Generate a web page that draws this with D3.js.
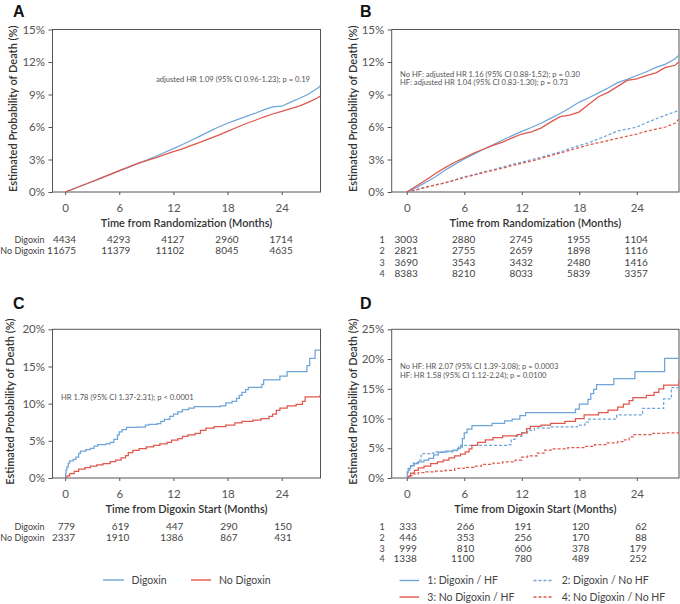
<!DOCTYPE html>
<html><head><meta charset="utf-8">
<script src="https://cdn.jsdelivr.net/npm/d3@7"></script>
<style>body{margin:0;background:#fff}svg{display:block}</style>
</head><body>
<svg id="c" width="680" height="604"></svg>
<script>
// ---------- DATA ----------
const riskTicks = [0, 6, 12, 18, 24];
const yTicksAB = [0, 3, 6, 9, 12, 15];
const yTicksC = [0, 5, 10, 15, 20];
const yTicksD = [0, 5, 10, 15, 20, 25];

// Panel A (months 0..28, 28.3)
const timeA = [0,1,2,3,4,5,6,7,8,9,10,11,12,13,14,15,16,17,18,19,20,21,22,23,24,25,26,27,28,28.3];
const aDigoxin   = [0,0.3,0.62,0.95,1.28,1.62,1.95,2.28,2.62,2.92,3.28,3.65,4.0,4.38,4.78,5.18,5.6,6.0,6.35,6.65,6.95,7.25,7.58,7.85,7.92,8.3,8.65,9.05,9.6,9.8];
const aNoDigoxin = [0,0.32,0.65,0.97,1.3,1.63,1.97,2.3,2.62,2.9,3.15,3.45,3.72,3.98,4.3,4.6,4.92,5.25,5.6,5.95,6.3,6.6,6.92,7.2,7.45,7.7,7.95,8.3,8.7,8.85];
const riskA_Digoxin = [4434, 4293, 4127, 2960, 1714];
const riskA_NoDigoxin = [11675, 11379, 11102, 8045, 4635];

// Panel B (months 0..28, 28.35)
const timeB = [0,1,2,3,4,5,6,7,8,9,10,11,12,13,14,15,16,17,18,19,20,21,22,23,24,25,26,27,28,28.35];
const bDigHF     = [0,0.4,0.9,1.4,2.0,2.55,3.05,3.5,3.95,4.35,4.8,5.2,5.6,5.95,6.35,6.8,7.25,7.75,8.3,8.7,9.15,9.6,10.1,10.4,10.75,11.1,11.5,11.8,12.3,12.6];
const bDigNoHF   = [0,0.2,0.45,0.65,0.85,1.1,1.4,1.6,1.85,2.05,2.3,2.55,2.75,3.0,3.2,3.45,3.7,4.0,4.3,4.55,4.9,5.25,5.65,5.8,6.0,6.4,6.75,7.1,7.4,7.55];
const bNoDigHF   = [0,0.55,1.1,1.7,2.25,2.75,3.15,3.6,3.95,4.3,4.6,5.0,5.35,5.55,5.9,6.45,6.95,7.1,7.4,8.1,8.8,9.2,9.75,10.3,10.45,10.75,11.0,11.5,11.7,12.0];
const bNoDigNoHF = [0,0.2,0.45,0.65,0.85,1.1,1.35,1.55,1.8,2.0,2.2,2.45,2.65,2.85,3.1,3.35,3.6,3.85,4.1,4.35,4.55,4.75,4.95,5.15,5.35,5.6,5.8,6.0,6.35,6.7];
const riskB1 = [3003, 2880, 2745, 1955, 1104];
const riskB2 = [2821, 2755, 2659, 1898, 1116];
const riskB3 = [3690, 3543, 3432, 2480, 1416];
const riskB4 = [8383, 8210, 8033, 5839, 3357];

// Panel C (step curves: [month, %])
const cDigoxin = [[0,0],[0.05,0.6],[0.1,1.1],[0.2,1.5],[0.35,2.0],[0.5,2.3],[0.9,2.5],[1.2,2.8],[1.5,3.3],[1.7,3.6],[2.3,3.8],[2.8,4.0],[3.2,4.3],[3.6,4.5],[4.5,4.6],[5.0,4.8],[5.4,5.2],[5.8,5.8],[6.0,6.2],[6.3,6.5],[6.8,6.8],[8.0,6.85],[8.9,7.1],[9.3,7.2],[10.2,7.3],[10.6,7.6],[11.0,7.9],[11.6,8.3],[12.0,8.6],[12.5,8.9],[13.0,9.2],[13.7,9.4],[14.3,9.6],[17.2,9.7],[17.8,10.1],[18.5,10.3],[19.0,10.7],[19.3,11.1],[19.6,11.5],[20.0,11.9],[20.3,12.2],[21.8,12.6],[22.0,13.2],[23.8,13.7],[24.6,14.3],[26.8,15.1],[27.1,16.1],[27.7,17.2],[28.3,17.2]];
const cNoDigoxin = [[0,0],[0.2,0.3],[0.5,0.6],[1.0,0.9],[1.5,1.2],[2.2,1.4],[2.8,1.6],[3.5,1.75],[4.2,1.95],[5.0,2.2],[5.6,2.4],[6.2,2.7],[6.7,3.0],[7.0,3.4],[7.5,3.7],[8.2,3.95],[9.0,4.2],[9.8,4.4],[10.5,4.6],[11.3,4.8],[11.8,5.1],[12.5,5.3],[13.0,5.6],[13.6,5.8],[14.4,6.0],[15.0,6.4],[15.6,6.7],[16.5,6.9],[17.8,7.1],[18.8,7.4],[19.6,7.6],[20.8,7.8],[21.7,8.0],[22.6,8.3],[23.0,8.6],[23.4,9.1],[23.8,9.4],[24.6,9.7],[25.6,9.9],[26.3,10.3],[26.6,10.9],[28.2,11.0],[28.3,11.3]];
const riskC_Digoxin = [779, 619, 447, 290, 150];
const riskC_NoDigoxin = [2337, 1910, 1386, 867, 431];

// Panel D (step curves: [month, %])
const dDigHF = [[0,0],[0.05,1.0],[0.15,1.6],[0.4,2.1],[0.8,2.4],[1.2,2.7],[1.8,3.0],[2.3,3.3],[2.8,3.9],[3.3,4.3],[4.0,4.5],[4.8,4.7],[5.3,5.0],[5.6,5.5],[5.8,6.6],[6.0,7.6],[6.3,8.2],[6.8,8.8],[8.9,9.2],[10.2,9.6],[11.0,9.9],[11.8,10.5],[12.4,11.0],[17.6,11.6],[18.0,12.4],[18.9,13.2],[19.2,14.2],[19.5,14.9],[19.8,15.7],[21.6,16.7],[23.8,17.9],[26.9,20.1],[28.4,20.1]];
const dDigNoHF = [[0,0],[0.1,1.3],[0.3,2.0],[0.7,2.6],[1.2,3.0],[1.5,4.1],[2.5,4.2],[3.0,4.4],[4.8,4.6],[5.4,5.2],[5.8,5.5],[10.5,5.6],[10.9,6.5],[11.3,7.0],[12.0,7.6],[12.6,8.0],[13.3,8.4],[15.0,8.6],[17.8,8.9],[18.6,9.4],[19.0,9.9],[21.9,10.6],[24.6,11.7],[26.8,13.3],[27.6,15.2],[28.4,15.2]];
const dNoDigHF = [[0,0],[0.1,0.3],[0.4,0.8],[0.8,1.3],[1.2,1.7],[1.8,2.0],[2.5,2.4],[3.2,2.7],[3.8,3.0],[4.4,3.4],[5.0,3.7],[5.6,4.0],[6.1,4.4],[6.5,4.9],[6.8,5.5],[7.4,6.0],[8.2,6.4],[9.0,6.8],[10.0,7.1],[11.5,7.3],[12.0,7.6],[12.5,8.3],[12.9,8.7],[14.0,8.9],[15.0,9.2],[16.5,9.5],[17.6,10.0],[18.5,10.6],[20.0,11.0],[21.0,11.4],[22.0,11.9],[22.6,12.4],[23.2,13.0],[23.6,13.5],[25.0,13.9],[25.8,14.4],[26.3,15.0],[26.8,15.6],[28.3,15.6],[28.4,16.5]];
const dNoDigNoHF = [[0,0],[0.2,0.4],[0.6,0.7],[1.2,0.9],[2.0,1.05],[3.0,1.15],[4.0,1.3],[5.0,1.6],[6.0,1.8],[7.0,2.0],[7.8,2.3],[9.0,2.5],[10.0,2.7],[11.3,3.0],[12.0,3.5],[12.6,3.7],[13.6,4.2],[14.4,4.7],[15.2,4.9],[16.8,5.1],[18.5,5.3],[19.6,5.6],[20.8,5.9],[22.0,6.1],[22.7,6.4],[23.2,6.9],[23.7,7.3],[25.5,7.5],[27.0,7.6],[28.4,7.6]];
const riskD1 = [333, 266, 191, 120, 62];
const riskD2 = [446, 353, 256, 170, 88];
const riskD3 = [999, 810, 606, 378, 179];
const riskD4 = [1338, 1100, 780, 489, 252];

// ---------- STYLE ----------
const BLUE = '#6fa5d8', RED = '#e0574b';
const FONT = 'Lato, "Open Sans", sans-serif';
const svg = d3.select('#c').style('font-family', FONT);

function zip(t, v) { return t.map((d, i) => [d, v[i]]); }

function panel(cfg) {
  const g = svg.append('g');
  const x = d3.scaleLinear().domain(cfg.xdom).range([cfg.left, cfg.right]);
  const y = d3.scaleLinear().domain([0, cfg.ymax]).range([cfg.bottom, cfg.top]);
  const cid = 'clip' + cfg.label;
  svg.append('clipPath').attr('id', cid).append('rect')
    .attr('x', cfg.left).attr('y', cfg.top).attr('width', cfg.right - cfg.left).attr('height', cfg.bottom - cfg.top);

  // panel label
  g.append('text').attr('x', cfg.labelX).attr('y', cfg.labelY).text(cfg.label)
    .attr('font-family', '"Liberation Sans", Arial, sans-serif').attr('font-weight', 'bold').attr('font-size', 16).attr('fill', '#111');

  // y axis
  const ya = g.append('g').attr('transform', `translate(${cfg.left},0)`)
    .call(d3.axisLeft(y).tickValues(cfg.yticks).tickSize(4).tickPadding(3.5).tickFormat(d => d + '%'));
  ya.select('.domain').remove();
  ya.selectAll('line').attr('stroke', '#555');
  ya.selectAll('text').attr('font-size', 11.5).attr('fill', '#555').attr('font-family', FONT);

  // x axis
  const xa = g.append('g').attr('transform', `translate(0,${cfg.bottom})`)
    .call(d3.axisBottom(x).tickValues(riskTicks).tickSize(3).tickPadding(8.5));
  xa.select('.domain').remove();
  xa.selectAll('line').attr('stroke', '#555');
  xa.selectAll('text').attr('font-size', 11.5).attr('fill', '#555').attr('font-family', FONT);

  // frame
  g.append('rect').attr('x', cfg.left).attr('y', cfg.top).attr('width', cfg.right - cfg.left).attr('height', cfg.bottom - cfg.top)
    .attr('fill', 'none').attr('stroke', '#555').attr('stroke-width', 1);

  // axis titles
  g.append('text').attr('x', (cfg.left + cfg.right) / 2).attr('y', cfg.bottom + 34.5).attr('text-anchor', 'middle')
    .attr('font-size', 11).attr('font-weight', 600).attr('fill', '#333').text(cfg.xtitle);
  g.append('text').attr('transform', `translate(${cfg.ytitleX},${(cfg.top + cfg.bottom) / 2 - 2}) rotate(-90)`)
    .attr('text-anchor', 'middle').attr('font-size', 11).attr('font-weight', 600).attr('fill', '#333')
    .text('Estimated Probability of Death (%)');

  // curves
  const lines = g.append('g').attr('clip-path', `url(#${cid})`);
  cfg.series.forEach(s => {
    const line = d3.line().x(d => x(d[0])).y(d => y(d[1])).curve(s.step ? d3.curveStepAfter : d3.curveLinear);
    lines.append('path').attr('d', line(s.data)).attr('fill', 'none').attr('stroke', s.color)
      .attr('stroke-width', 1.25).attr('stroke-dasharray', s.dash ? '3,2' : null);
  });

  // annotations
  cfg.notes.forEach(n => {
    g.append('text').attr('x', n.x).attr('y', n.y).attr('text-anchor', n.anchor || 'start')
      .attr('font-size', 7.6).attr('fill', '#555').text(n.text);
  });

  // risk table
  cfg.risk.forEach((r, i) => {
    const yy = cfg.riskY + i * cfg.riskDy;
    g.append('text').attr('x', cfg.riskLabelX).attr('y', yy).attr('text-anchor', cfg.riskLabelAnchor)
      .attr('font-size', 9).attr('fill', '#444').text(r.label);
    g.selectAll(null).data(r.values).enter().append('text')
      .attr('x', (d, j) => x(riskTicks[j]) + cfg.riskOff).attr('y', yy).attr('text-anchor', 'end')
      .attr('font-size', 10).attr('fill', '#444').text(d => d);
  });
}

panel({
  label: 'A', labelX: 13, labelY: 16.5, left: 52.5, right: 320.5, top: 29.5, bottom: 192,
  xdom: [-1.4, 28.3], ymax: 15, yticks: yTicksAB, ytitleX: 17,
  xtitle: 'Time from Randomization (Months)',
  series: [
    { data: zip(timeA, aDigoxin), color: BLUE },
    { data: zip(timeA, aNoDigoxin), color: RED }
  ],
  notes: [{ x: 310, y: 81.5, anchor: 'end', text: 'adjusted HR 1.09 (95% CI 0.96-1.23); p = 0.19' }],
  risk: [{ label: 'Digoxin', values: riskA_Digoxin }, { label: 'No Digoxin', values: riskA_NoDigoxin }],
  riskY: 242.8, riskDy: 11.4, riskLabelX: 44.5, riskLabelAnchor: 'end', riskOff: 11
});

panel({
  label: 'B', labelX: 360, labelY: 16.5, left: 391.7, right: 679, top: 29.5, bottom: 192,
  xdom: [-1.57, 28.4], ymax: 15, yticks: yTicksAB, ytitleX: 357,
  xtitle: 'Time from Randomization (Months)',
  series: [
    { data: zip(timeB, bDigNoHF), color: BLUE, dash: true },
    { data: zip(timeB, bNoDigNoHF), color: RED, dash: true },
    { data: zip(timeB, bDigHF), color: BLUE },
    { data: zip(timeB, bNoDigHF), color: RED }
  ],
  notes: [
    { x: 400, y: 76.7, text: 'No HF: adjusted HR 1.16 (95% CI 0.88-1.52); p = 0.30' },
    { x: 400, y: 85.4, text: 'HF: adjusted HR 1.04 (95% CI 0.83-1.30); p = 0.73' }
  ],
  risk: [{ label: '1', values: riskB1 }, { label: '2', values: riskB2 }, { label: '3', values: riskB3 }, { label: '4', values: riskB4 }],
  riskY: 242.8, riskDy: 11.35, riskLabelX: 382, riskLabelAnchor: 'middle', riskOff: 11
});

panel({
  label: 'C', labelX: 13, labelY: 308.5, left: 52.5, right: 320.5, top: 329.3, bottom: 478,
  xdom: [-1.4, 28.3], ymax: 20, yticks: yTicksC, ytitleX: 14,
  xtitle: 'Time from Digoxin Start (Months)',
  series: [
    { data: cDigoxin, color: BLUE, step: true },
    { data: cNoDigoxin, color: RED, step: true }
  ],
  notes: [{ x: 61, y: 400.3, text: 'HR 1.78 (95% CI 1.37-2.31); p < 0.0001' }],
  risk: [{ label: 'Digoxin', values: riskC_Digoxin }, { label: 'No Digoxin', values: riskC_NoDigoxin }],
  riskY: 530.2, riskDy: 10.8, riskLabelX: 44.5, riskLabelAnchor: 'end', riskOff: 10
});

panel({
  label: 'D', labelX: 360, labelY: 308.5, left: 391.7, right: 679, top: 329.3, bottom: 478,
  xdom: [-1.57, 28.4], ymax: 25, yticks: yTicksD, ytitleX: 357,
  xtitle: 'Time from Digoxin Start (Months)',
  series: [
    { data: dNoDigNoHF, color: RED, step: true, dash: true },
    { data: dDigNoHF, color: BLUE, step: true, dash: true },
    { data: dNoDigHF, color: RED, step: true },
    { data: dDigHF, color: BLUE, step: true }
  ],
  notes: [
    { x: 400, y: 368.6, text: 'No HF: HR 2.07 (95% CI 1.39-3.08); p = 0.0003' },
    { x: 400, y: 378.2, text: 'HF: HR 1.58 (95% CI 1.12-2.24); p = 0.0100' }
  ],
  risk: [{ label: '1', values: riskD1 }, { label: '2', values: riskD2 }, { label: '3', values: riskD3 }, { label: '4', values: riskD4 }],
  riskY: 530.2, riskDy: 10.7, riskLabelX: 382, riskLabelAnchor: 'middle', riskOff: 10
});

// ---------- LEGENDS ----------
const legC = [
  { label: 'Digoxin', color: BLUE, dash: false, x1: 103, x2: 124, tx: 131.5, y: 580 },
  { label: 'No Digoxin', color: RED, dash: false, x1: 191, x2: 211, tx: 219, y: 580 }
];
const legD = [
  { label: '1: Digoxin / HF', color: BLUE, dash: false, x1: 399.5, x2: 419, tx: 427.3, y: 580.5 },
  { label: '2: Digoxin / No HF', color: BLUE, dash: true, x1: 533.5, x2: 553, tx: 561.7, y: 580.5 },
  { label: '3: No Digoxin / HF', color: RED, dash: false, x1: 399.5, x2: 419, tx: 427.3, y: 597 },
  { label: '4: No Digoxin / No HF', color: RED, dash: true, x1: 533.5, x2: 553, tx: 561.7, y: 597 }
];
const lg = svg.append('g');
legC.concat(legD).forEach(l => {
  lg.append('line').attr('x1', l.x1).attr('x2', l.x2).attr('y1', l.y).attr('y2', l.y)
    .attr('stroke', l.color).attr('stroke-width', 1.4).attr('stroke-dasharray', l.dash ? '3,2' : null);
  lg.append('text').attr('x', l.tx).attr('y', l.y).attr('dy', '0.35em').attr('font-size', 10.5)
    .attr('fill', '#444').text(l.label);
});
</script>
</body></html>
